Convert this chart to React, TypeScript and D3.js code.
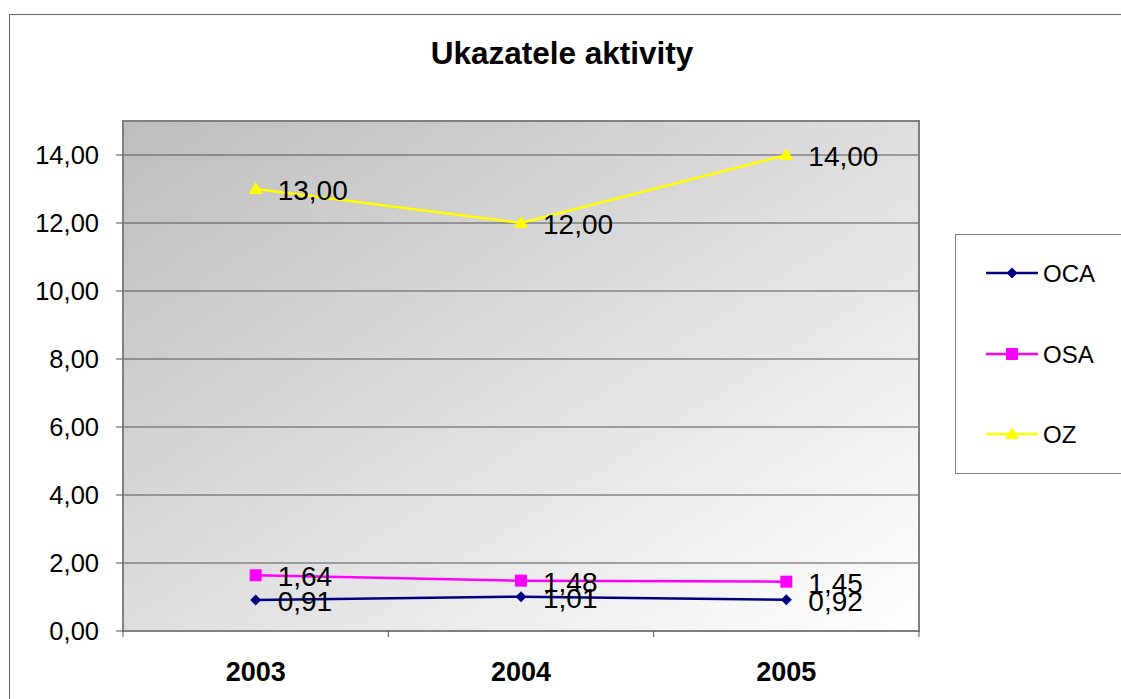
import React from 'react';
import * as d3 from 'd3';

const years = ['2003', '2004', '2005'];
const ocaValues = [0.91, 1.01, 0.92];
const osaValues = [1.64, 1.48, 1.45];
const ozValues = [13.0, 12.0, 14.0];
const yTicks = [0, 2, 4, 6, 8, 10, 12, 14];

const series = [
  { name: 'OCA', values: ocaValues, color: '#000080', marker: 'diamond' },
  { name: 'OSA', values: osaValues, color: '#FF00FF', marker: 'square' },
  { name: 'OZ', values: ozValues, color: '#FFFF00', marker: 'triangle' },
];

const fmt = (v: number) => d3.format('.2f')(v).replace('.', ',');

// marker outlines, centred on 0,0
const markerPath = (m: string) => {
  if (m === 'diamond') return 'M0,-5.5L5.5,0L0,5.5L-5.5,0Z';
  if (m === 'square') return 'M-6,-6H6V6H-6Z';
  return 'M0,-7L7,5H-7Z';
};

const App: React.FC = () => {
  const width = 1121;
  const height = 699;
  const plot = { left: 123, top: 121, right: 919, bottom: 631 };

  const x = d3.scaleBand<string>().domain(years).range([plot.left, plot.right]);
  const y = d3.scaleLinear().domain([0, 15]).range([plot.bottom, plot.top]);

  const line = d3
    .line<number>()
    .x((_, i) => x(years[i])! + x.bandwidth() / 2)
    .y(d => y(d));

  const font = 'Arial, "Liberation Sans", sans-serif';
  const legendY = [273, 354, 434];

  return (
    <svg
      width={width}
      height={height}
      style={{ position: 'absolute', left: 0, top: 0, fontFamily: font }}
    >
      <defs>
        <linearGradient id="bg" x1="0" y1="0" x2="1" y2="1">
          <stop offset="0%" stopColor="#bdbdbd" />
          <stop offset="100%" stopColor="#ffffff" />
        </linearGradient>
      </defs>

      {/* chart border */}
      <rect x={9.5} y={14.5} width={1130} height={700} fill="#fff" stroke="#666" strokeWidth={1} />

      <text x={562} y={64} textAnchor="middle" fontSize={31.5} fontWeight="bold">
        Ukazatele aktivity
      </text>

      {/* plot area */}
      <rect
        x={plot.left}
        y={plot.top}
        width={plot.right - plot.left}
        height={plot.bottom - plot.top}
        fill="url(#bg)"
      />

      {yTicks.slice(1).map(t => (
        <line key={t} x1={plot.left} x2={plot.right} y1={y(t)} y2={y(t)} stroke="#555" strokeWidth={1} />
      ))}

      <rect
        x={plot.left}
        y={plot.top}
        width={plot.right - plot.left}
        height={plot.bottom - plot.top}
        fill="none"
        stroke="#808080"
        strokeWidth={2}
      />

      {/* y axis */}
      {yTicks.map(t => (
        <g key={t}>
          <line x1={plot.left - 7} x2={plot.left} y1={y(t)} y2={y(t)} stroke="#555" />
          <text x={99} y={y(t)} dy="0.36em" textAnchor="end" fontSize={25.5}>
            {fmt(t)}
          </text>
        </g>
      ))}

      {/* x axis */}
      <line x1={plot.left} x2={plot.right} y1={plot.bottom} y2={plot.bottom} stroke="#808080" strokeWidth={2} />
      {[...years.map(d => x(d)!), plot.right].map((tx, i) => (
        <line key={i} x1={tx} x2={tx} y1={plot.bottom} y2={plot.bottom + 6} stroke="#555" />
      ))}
      {years.map(d => (
        <text key={d} x={x(d)! + x.bandwidth() / 2} y={681} textAnchor="middle" fontSize={27} fontWeight="bold">
          {d}
        </text>
      ))}

      {/* series */}
      {series.map(s => (
        <g key={s.name}>
          <path d={line(s.values) || ''} fill="none" stroke={s.color} strokeWidth={2.5} />
          {s.values.map((v, i) => (
            <path
              key={i}
              d={markerPath(s.marker)}
              transform={`translate(${x(years[i])! + x.bandwidth() / 2},${y(v)})`}
              fill={s.color}
            />
          ))}
        </g>
      ))}

      {/* data labels (they overlap in the original too) */}
      {series.map(s =>
        s.values.map((v, i) => {
          const cx = x(years[i])! + x.bandwidth() / 2;
          return (
            <text key={s.name + i} x={cx + 22} y={y(v) + 1} dy="0.36em" fontSize={28}>
              {fmt(v)}
            </text>
          );
        })
      )}

      {/* legend */}
      <rect x={955.5} y={234.5} width={200} height={239} fill="#fff" stroke="#808080" />
      {series.map((s, i) => (
        <g key={s.name}>
          <line x1={986} x2={1038} y1={legendY[i]} y2={legendY[i]} stroke={s.color} strokeWidth={2.5} />
          <path d={markerPath(s.marker)} transform={`translate(1012,${legendY[i]})`} fill={s.color} />
          <text x={1043} y={legendY[i]} dy="0.36em" fontSize={24}>
            {s.name}
          </text>
        </g>
      ))}
    </svg>
  );
};

export default App;
